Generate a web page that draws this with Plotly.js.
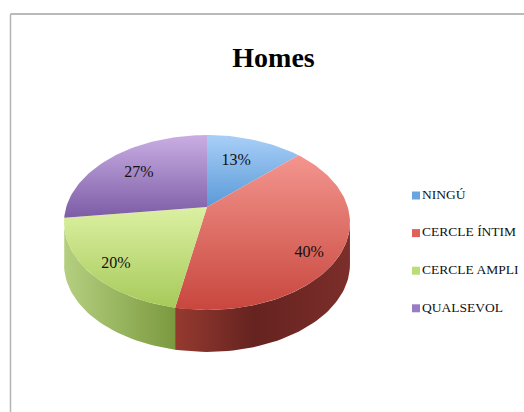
<!DOCTYPE html>
<html><head><meta charset="utf-8">
<script src="https://cdn.plot.ly/plotly-3.0.1.min.js"></script>
<style>html,body{margin:0;padding:0;background:#fff;overflow:hidden}</style>
</head><body><div id="chart" style="width:524px;height:412px"></div>
<script>
const categories = ["NINGÚ", "CERCLE ÍNTIM", "CERCLE AMPLI", "QUALSEVOL"];
const values = [13, 40, 20, 27];
const titleText = "Homes";

const topColors = [
  [[0,"#5a9ad8"],[1,"#a9cff7"]],
  [[0,"#c8473e"],[1,"#f3958e"]],
  [[0,"#a6ca5a"],[1,"#dcf0a2"]],
  [[0,"#7c5ca6"],[1,"#c9aee3"]]
];
const sideColors = [
  null,
  [[0,"#963a30"],[0.45,"#652320"],[1,"#7c2e2a"]],
  [[0,"#b5cf80"],[1,"#7b9a3f"]],
  null
];
const legendColors = ["#6aa5e2","#e0605a","#bcdc78","#9a7cc6"];

// projection of the tilted disc onto the page
const CX = 207, CY = 207, A = 140.7, B = 84.7, K = 0.177, DEPTH = 42;
function project(pct, r) {
  const t = pct / 100 * 2 * Math.PI;
  const u = r * Math.sin(t), v = r * Math.cos(t), d = 1 + K * v;
  return [CX + A * u / d, CY - B * v / d];
}
const total = values.reduce((a, b) => a + b, 0);
const shares = values.map(v => v / total * 100);
const starts = shares.map((_, i) => shares.slice(0, i).reduce((a, b) => a + b, 0));

function arc(p0, p1) {
  const pts = [], n = Math.max(2, Math.ceil((p1 - p0) * 2));
  for (let i = 0; i <= n; i++) pts.push(project(p0 + (p1 - p0) * i / n, 1));
  return pts;
}
const traces = [];
// rim: only the near part of the disc edge is visible
const RIM_FROM = 27.8, RIM_TO = 75;
shares.forEach((s, i) => {
  if (!sideColors[i]) return;
  const p0 = Math.max(starts[i], RIM_FROM), p1 = Math.min(starts[i] + s, RIM_TO);
  const a = arc(p0, p1);
  const low = a.slice().reverse().map(p => [p[0], p[1] + DEPTH]);
  const all = a.concat(low);
  traces.push({x: all.map(p => p[0]), y: all.map(p => p[1]), mode: "lines", fill: "toself",
    line: {width: 0}, fillgradient: {type: "horizontal", colorscale: sideColors[i]},
    hoverinfo: "skip", showlegend: false});
});
// top face
shares.forEach((s, i) => {
  const a = [project(0, 0)].concat(arc(starts[i], starts[i] + s));
  traces.push({x: a.map(p => p[0]), y: a.map(p => p[1]), mode: "lines", fill: "toself",
    line: {width: 0}, fillgradient: {type: "vertical", colorscale: topColors[i]},
    hoverinfo: "skip", showlegend: false});
});
// value labels
const labelRadius = [0.643, 0.826, 0.834, 0.676];
const labelShift = [-0.7, 2.2, -0.8, -0.5];
const lp = shares.map((s, i) => project(starts[i] + s / 2 + labelShift[i], labelRadius[i]));
traces.push({x: lp.map(p => p[0]), y: lp.map(p => p[1]), mode: "text",
  text: shares.map(s => Math.round(s) + "%"), textposition: "middle center",
  textfont: {family: "Liberation Serif", size: 16, color: "#111"},
  hoverinfo: "skip", showlegend: false});
// legend drawn as swatch + text, spaced to suit the chart
const LEG_X = 416, LEG_Y = 195.5, LEG_STEP = 37.6;
traces.push({x: categories.map(() => LEG_X), y: categories.map((_, i) => LEG_Y + i * LEG_STEP),
  mode: "markers+text", text: categories, textposition: "middle right",
  textfont: {family: "Liberation Serif", size: 13.5, color: "#111"},
  marker: {symbol: "square", size: 8, color: legendColors, line: {width: 0}},
  hoverinfo: "skip", showlegend: false, cliponaxis: false});

const layout = {
  width: 524, height: 412, margin: {l: 0, r: 0, t: 0, b: 0},
  paper_bgcolor: "#fff", plot_bgcolor: "#fff",
  title: {text: titleText, x: 273.5 / 524, xanchor: "center", y: 1 - 57 / 412, yanchor: "middle",
    font: {family: "Liberation Serif", size: 28, color: "#000", weight: 700}},
  xaxis: {range: [0, 524], visible: false, fixedrange: true},
  yaxis: {range: [412, 0], visible: false, fixedrange: true},
  showlegend: false,
  shapes: [
    {type: "line", xref: "paper", yref: "paper", x0: 10.5 / 524, x1: 1, y0: 1 - 14 / 412, y1: 1 - 14 / 412, line: {color: "#a3a3a3", width: 1.5}},
    {type: "line", xref: "paper", yref: "paper", x0: 10.5 / 524, x1: 10.5 / 524, y0: 0, y1: 1 - 14 / 412, line: {color: "#b5b5b5", width: 1.5}}
  ]
};
Plotly.newPlot("chart", traces, layout, {displayModeBar: false, staticPlot: true});
</script></body></html>
